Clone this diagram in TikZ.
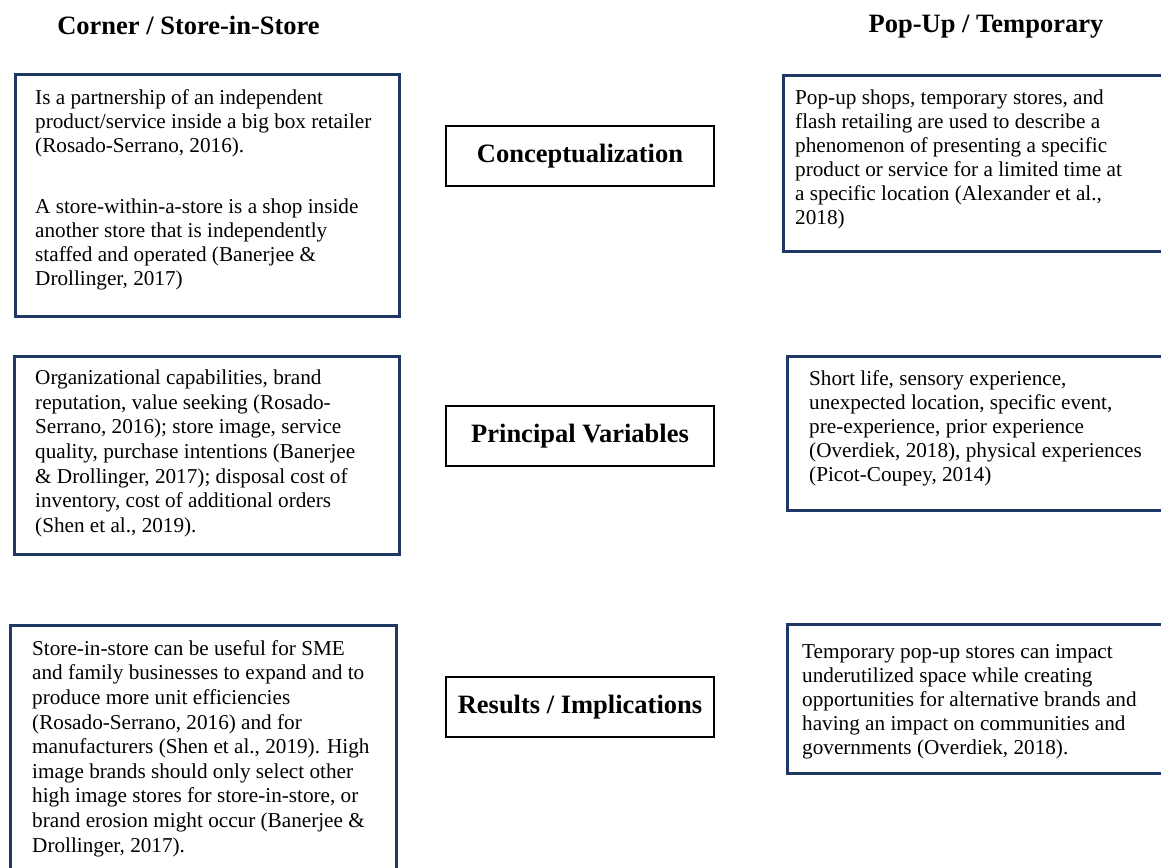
\documentclass[tikz,border=0pt]{standalone}
\usepackage{fontspec}
\setmainfont{Liberation Serif}
\usetikzlibrary{positioning}
\definecolor{boxnavy}{HTML}{1F3864}

\begin{document}
\begin{tikzpicture}[
    x=1pt, y=-1pt,
    outerbox/.style={rectangle, draw=boxnavy, line width=2.5pt, anchor=north west, inner sep=0pt},
    stagebox/.style={rectangle, draw, line width=1.4pt, minimum width=268pt, minimum height=60pt, font=\fontsize{26.5}{30}\selectfont\bfseries},
    lefttext/.style={anchor=north west, inner sep=0pt, align=left, font=\fontsize{21.2}{24.6}\selectfont},
    righttext/.style={anchor=north west, inner sep=0pt, align=left, font=\fontsize{21.2}{24}\selectfont},
    heading/.style={anchor=base, font=\fontsize{26.5}{30}\selectfont\bfseries}
]
    \useasboundingbox (0,0) rectangle (1161,867);
    \clip (0,0) rectangle (1161,867);

    % Column headings
    \node[heading] (cornerhead) at (188.5,35) {Corner / Store-in-Store};
    \node[heading] (popuphead) at (986,33) {Pop-Up / Temporary};

    % Stages in the middle
    \node[stagebox] (concept) at (580,156) {Conceptualization};
    \node[stagebox] (variables) at (580,436) {Principal Variables};
    \node[stagebox] (results) at (580,707) {Results / Implications};

    % Corner / store-in-store boxes
    \node[outerbox, minimum width=384pt, minimum height=242pt] (cornerconcept) at (14,73) {};
    \node[lefttext, font=\fontsize{21.2}{24}\selectfont] (cornerconcepttext) at (35,87.4) {\strut Is a partnership of an independent\\
        product/service inside a big box retailer\\
        (Rosado-Serrano, 2016).\\[37pt]
        A store-within-a-store is a shop inside\\
        another store that is independently\\
        staffed and operated (Banerjee \&\\
        Drollinger, 2017)};

    \node[outerbox, minimum width=385pt, minimum height=198pt] (cornervars) at (13,355) {};
    \node[lefttext] (cornervarstext) at (35,367.3) {\strut Organizational capabilities, brand\\
        reputation, value seeking (Rosado-\\
        Serrano, 2016); store image, service\\
        quality, purchase intentions (Banerjee\\
        \& Drollinger, 2017); disposal cost of\\
        inventory, cost of additional orders\\
        (Shen et al., 2019).};

    \node[outerbox, minimum width=386pt, minimum height=280pt] (cornerresults) at (9,624) {};
    \node[lefttext] (cornerresultstext) at (32,637.8) {\strut Store-in-store can be useful for SME\\
        and family businesses to expand and to\\
        produce more unit efficiencies\\
        (Rosado-Serrano, 2016) and for\\
        manufacturers (Shen et al., 2019). High\\
        image brands should only select other\\
        high image stores for store-in-store, or\\
        brand erosion might occur (Banerjee \&\\
        Drollinger, 2017).};

    % Pop-up / temporary boxes
    \node[outerbox, minimum width=400pt, minimum height=176pt] (popupconcept) at (782,74) {};
    \node[righttext] (popupconcepttext) at (795,87.2) {\strut Pop-up shops, temporary stores, and\\
        flash retailing are used to describe a\\
        phenomenon of presenting a specific\\
        product or service for a limited time at\\
        a specific location (Alexander et al.,\\
        2018)};

    \node[outerbox, minimum width=400pt, minimum height=154pt] (popupvars) at (786,355) {};
    \node[righttext] (popupvarstext) at (809,368.2) {\strut Short life, sensory experience,\\
        unexpected location, specific event,\\
        pre-experience, prior experience\\
        (Overdiek, 2018), physical experiences\\
        (Picot-Coupey, 2014)};

    \node[outerbox, minimum width=400pt, minimum height=149pt] (popupresults) at (786,623) {};
    \node[righttext] (popupresultstext) at (802,641.2) {\strut Temporary pop-up stores can impact\\
        underutilized space while creating\\
        opportunities for alternative brands and\\
        having an impact on communities and\\
        governments (Overdiek, 2018).};
\end{tikzpicture}
\end{document}
